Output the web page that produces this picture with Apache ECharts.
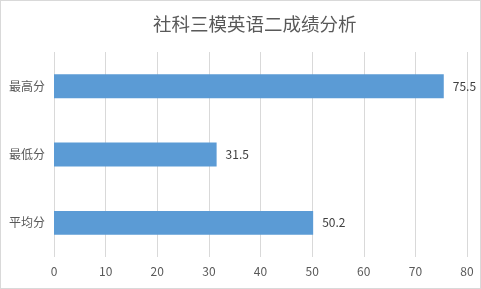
<!DOCTYPE html>
<html><head><meta charset="utf-8">
<script src="https://cdn.jsdelivr.net/npm/echarts@6/dist/echarts.min.js"></script>
<style>
html,body{margin:0;padding:0;background:#fff;}
#c{width:481px;height:289px;box-sizing:border-box;border:1px solid #d9d9d9;}
</style></head>
<body><div id="c"></div>
<script>
const titleText = '社科三模英语二成绩分析';
const categories = ['最高分', '最低分', '平均分'];
const values = [75.5, 31.5, 50.2];
const axisMin = 0, axisMax = 80, axisInterval = 10;

const chart = echarts.init(document.getElementById('c'), null, {renderer: 'canvas'});
chart.setOption({
  animation: false,
  title: {
    text: titleText, left: 147, top: 9,
    textStyle: {fontFamily: 'Noto Sans CJK SC', fontWeight: 'normal', fontSize: 18.5, color: '#595959'}
  },
  grid: {left: 53, right: 13, top: 51, bottom: 31, containLabel: false},
  xAxis: {
    type: 'value', min: axisMin, max: axisMax, interval: axisInterval,
    axisLine: {show: false}, axisTick: {show: false},
    splitLine: {lineStyle: {color: '#d9d9d9', width: 1}},
    axisLabel: {color: '#595959', fontSize: 12, fontFamily: 'Noto Sans CJK SC', margin: 8}
  },
  yAxis: {
    type: 'category', data: categories, inverse: true,
    axisLine: {show: false}, axisTick: {show: false},
    axisLabel: {color: '#595959', fontSize: 12, fontFamily: 'Noto Sans CJK SC', margin: 9}
  },
  series: [{
    type: 'bar', data: values, barWidth: '35%',
    itemStyle: {color: '#5b9bd5'},
    label: {show: true, position: 'right', distance: 9, color: '#404040', fontSize: 12, fontFamily: 'Noto Sans CJK SC'}
  }]
});
</script></body></html>
